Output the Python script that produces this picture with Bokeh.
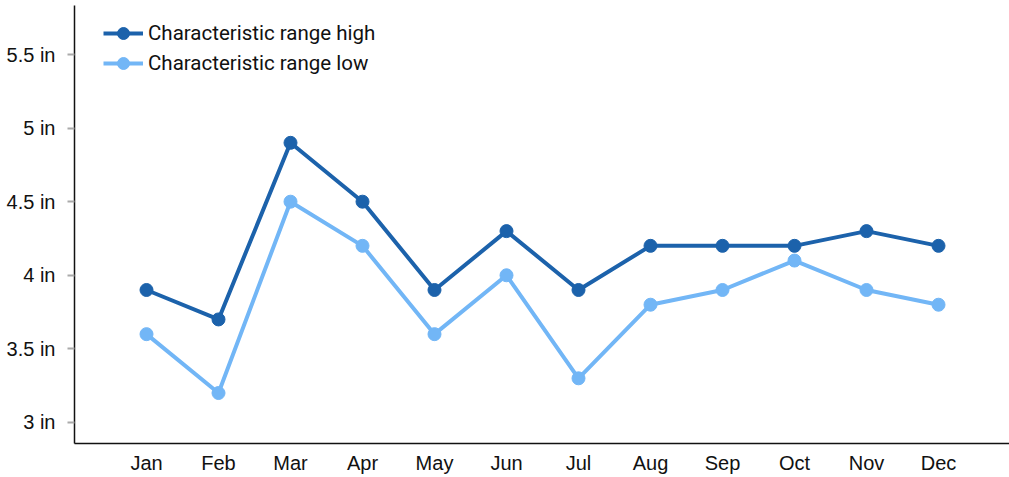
from bokeh.plotting import figure
from bokeh.models import ColumnDataSource, FixedTicker, Range1d, Legend, LegendItem
from bokeh.embed import file_html
from bokeh.resources import INLINE

months = ["Jan", "Feb", "Mar", "Apr", "May", "Jun", "Jul", "Aug", "Sep", "Oct", "Nov", "Dec"]
range_high = [3.9, 3.7, 4.9, 4.5, 3.9, 4.3, 3.9, 4.2, 4.2, 4.2, 4.3, 4.2]
range_low = [3.6, 3.2, 4.5, 4.2, 3.6, 4.0, 3.3, 3.8, 3.9, 4.1, 3.9, 3.8]
y_ticks = [3, 3.5, 4, 4.5, 5, 5.5]

src = ColumnDataSource(data=dict(x=list(range(len(months))), high=range_high, low=range_low))

p = figure(frame_width=935, frame_height=438, output_backend="svg", toolbar_location=None,
           x_range=Range1d(-1.0, 11.986), y_range=Range1d(2.857, 5.833),
           min_border_left=74, min_border_right=0, min_border_top=5, min_border_bottom=0)
p.outline_line_color = None
p.grid.visible = False

dark = "#1c62ab"
light = "#72b6f6"

r1 = p.line("x", "high", source=src, line_color=dark, line_width=4)
c1 = p.scatter("x", "high", source=src, size=13, fill_color=dark, line_color=dark)
r2 = p.line("x", "low", source=src, line_color=light, line_width=4)
c2 = p.scatter("x", "low", source=src, size=13, fill_color=light, line_color=light)

p.xaxis.ticker = FixedTicker(ticks=list(range(len(months))))
p.xaxis.major_label_overrides = {i: m for i, m in enumerate(months)}
p.xaxis.major_tick_line_color = None
p.xaxis.major_tick_out = 0
p.xaxis.major_tick_in = 0
p.xaxis.minor_tick_line_color = None
p.xaxis.major_label_standoff = 8
p.xaxis.axis_line_color = "#111111"
p.xaxis.axis_line_width = 1.5

p.yaxis.ticker = FixedTicker(ticks=y_ticks)
p.yaxis.major_label_overrides = {t: f"{t:g} in" for t in y_ticks}
p.yaxis.major_tick_line_color = "#aaaaaa"
p.yaxis.major_tick_line_width = 2
p.yaxis.major_tick_out = 7
p.yaxis.major_tick_in = 0
p.yaxis.minor_tick_line_color = None
p.yaxis.major_label_standoff = 12
p.yaxis.axis_line_color = "#111111"
p.yaxis.axis_line_width = 1.5

for ax in (p.xaxis, p.yaxis):
    ax.major_label_text_font = "Liberation Sans"
    ax.major_label_text_font_size = "20px"
    ax.major_label_text_color = "#111111"

legend = Legend(items=[
    LegendItem(label="Characteristic range high", renderers=[r1, c1]),
    LegendItem(label="Characteristic range low", renderers=[r2, c2]),
], location=(29, 365))
legend.border_line_color = None
legend.background_fill_alpha = 0
legend.padding = 0
legend.margin = 0
legend.spacing = 0
legend.glyph_width = 40
legend.glyph_height = 30
legend.label_standoff = 5
legend.label_text_font = "Roboto"
legend.label_text_font_size = "20.5px"
legend.label_text_color = "#111111"
p.add_layout(legend, "center")

open("out.html", "w").write(file_html(p, INLINE))
